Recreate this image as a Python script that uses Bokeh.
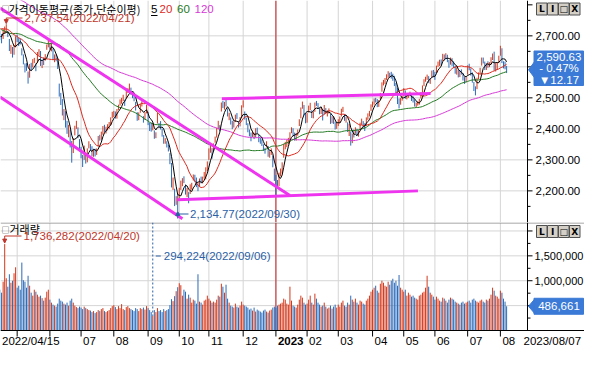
import numpy as np
from bokeh.plotting import figure
from bokeh.layouts import column
from bokeh.models import Range1d, Label, Arrow, NormalHead, ColumnDataSource
from bokeh.embed import file_html
from bokeh.resources import INLINE

# ---------------- data (KOSPI daily) ----------------
prior_closes = [
    3006, 3020, 3049, 3025, 3009, 2971,
    2983, 3013, 2976, 2983, 2969, 2960, 2963, 2950, 2924, 2968, 2999, 2997, 2962, 2947, 2971, 3014, 2997, 2995, 2980, 2936, 2910, 2839,
    2900, 2945, 2968, 2973, 2991, 3002, 3029, 3010, 3002, 2988, 2990, 3006, 3018, 2964, 2975, 2985, 2998, 3012, 3000, 3020, 2993, 2978,
    2989, 2990, 2953, 2920, 2954, 2927, 2927, 2972, 2962, 2922, 2890, 2865, 2843, 2863, 2834, 2792, 2720, 2710, 2615, 2663,
    2707, 2750, 2746, 2742, 2768, 2771, 2747, 2704, 2677, 2729, 2745, 2745, 2744, 2707, 2720, 2649, 2677, 2699,
    2703, 2747, 2713, 2651, 2623, 2680, 2661, 2646, 2621, 2659, 2694, 2707, 2687, 2722, 2736, 2729, 2730, 2729, 2741, 2746, 2757,
    2740, 2757, 2759, 2735, 2696, 2701, 2693, 2667, 2716, 2716,
]

closes = [
    2696, 2693, 2719, 2719, 2728, 2705, 2657, 2668, 2639, 2667, 2695,
    2687, 2680, 2678, 2645, 2611, 2597, 2592, 2550, 2604, 2597, 2620, 2626, 2592, 2639, 2647, 2606, 2617, 2612, 2638, 2670, 2686,
    2659, 2671, 2626, 2626, 2625, 2596, 2505, 2493, 2447, 2451, 2441, 2391, 2409, 2343, 2314, 2367, 2402, 2422, 2378, 2333,
    2305, 2300, 2342, 2292, 2334, 2351, 2340, 2318, 2329, 2322, 2331, 2375, 2371, 2387, 2409, 2393, 2404, 2412, 2416, 2435, 2452,
    2452, 2440, 2461, 2473, 2491, 2493, 2503, 2481, 2524, 2528, 2534, 2516, 2508, 2493, 2463, 2435, 2447, 2477, 2481, 2427, 2451, 2472,
    2416, 2409, 2404, 2410, 2376, 2384, 2450, 2411, 2402, 2383, 2356, 2368, 2347, 2332, 2290, 2221, 2224, 2169, 2171, 2155,
    2209, 2215, 2238, 2233, 2192, 2202, 2163, 2213, 2220, 2250, 2237, 2218, 2213, 2236, 2235, 2235, 2251, 2268, 2294,
    2335, 2337, 2329, 2348, 2372, 2399, 2424, 2403, 2483, 2475, 2480, 2477, 2443, 2444, 2420, 2405, 2418, 2441, 2438, 2408, 2433, 2473,
    2480, 2434, 2419, 2393, 2383, 2371, 2389, 2373, 2399, 2389, 2361, 2360, 2352, 2333, 2330, 2357, 2314, 2317, 2333, 2280, 2236,
    2226, 2219, 2256, 2265, 2290, 2350, 2351, 2360, 2365, 2386, 2400, 2379, 2368, 2380, 2395, 2429, 2469, 2484, 2450, 2425,
    2450, 2469, 2480, 2438, 2452, 2484, 2482, 2470, 2453, 2466, 2428, 2475, 2451, 2455, 2459, 2418, 2439, 2424, 2403, 2413,
    2422, 2432, 2463, 2463, 2432, 2433, 2395, 2411, 2349, 2380, 2378, 2396, 2388, 2389, 2417, 2424, 2415, 2400, 2435, 2444, 2453, 2477,
    2481, 2495, 2490, 2476, 2490, 2512, 2548, 2551, 2562, 2571, 2576, 2575, 2570, 2563, 2544, 2524, 2489, 2485, 2496, 2502,
    2529, 2501, 2502, 2509, 2510, 2497, 2491, 2475, 2479, 2480, 2495, 2515, 2538, 2557, 2563, 2568, 2555, 2559, 2586, 2577,
    2569, 2601, 2615, 2616, 2611, 2641, 2629, 2638, 2619, 2609, 2626, 2610, 2605, 2583, 2594, 2570, 2582, 2581, 2564, 2550, 2564,
    2602, 2593, 2579, 2556, 2527, 2521, 2562, 2575, 2591, 2628, 2619, 2594, 2608, 2600, 2610, 2628, 2636, 2592, 2604, 2608, 2633,
    2667, 2616, 2605, 2602.80, 2590.63,
]

highs = [
    2717, 2706, 2722, 2730, 2737.54, 2716, 2690, 2671, 2664, 2670, 2699,
    2704, 2693, 2691, 2660, 2640, 2611, 2612, 2585, 2609, 2613, 2625, 2629, 2611, 2648, 2657, 2651, 2622, 2630, 2641, 2672, 2691,
    2676, 2676, 2660, 2640, 2640, 2621, 2546, 2516, 2496, 2464, 2457, 2426, 2413, 2397, 2361, 2370, 2410, 2426, 2405, 2367,
    2342, 2316, 2346, 2320, 2337, 2360, 2351, 2344, 2334, 2336, 2337, 2377, 2381, 2391, 2409, 2413, 2407, 2415, 2422, 2437, 2455,
    2458, 2456, 2464, 2478, 2495, 2500, 2510, 2494, 2525, 2531, 2546, 2533, 2520, 2509, 2487, 2454, 2453, 2480, 2489, 2441, 2454, 2478,
    2455, 2420, 2420, 2419, 2395, 2389, 2452, 2419, 2425, 2401, 2380, 2370, 2360, 2349, 2322, 2290, 2243, 2207, 2183, 2191,
    2210, 2233, 2241, 2247, 2221, 2209, 2196, 2221, 2226, 2253, 2252, 2243, 2225, 2240, 2246, 2246, 2261, 2276, 2295,
    2337, 2348, 2338, 2353, 2375, 2403, 2426, 2412, 2485, 2490, 2487, 2494, 2466, 2452, 2437, 2426, 2424, 2446, 2451, 2423, 2438, 2476,
    2492, 2456, 2436, 2418, 2398, 2388, 2394, 2387, 2402, 2404, 2381, 2371, 2366, 2350, 2339, 2360, 2345, 2328, 2337, 2314, 2272,
    2251, 2235, 2259, 2272, 2292, 2351, 2358, 2365, 2371, 2389, 2405, 2402, 2388, 2387, 2398, 2431, 2469, 2488, 2477, 2451,
    2451, 2475, 2484, 2460, 2456, 2485, 2490, 2483, 2467, 2469, 2463, 2477, 2467, 2460, 2466, 2448, 2441, 2441, 2423, 2419,
    2431, 2440, 2465, 2471, 2448, 2439, 2421, 2416, 2391, 2385, 2398, 2405, 2400, 2396, 2420, 2433, 2425, 2418, 2437, 2450, 2458, 2479,
    2488, 2498, 2500, 2496, 2493, 2516, 2550, 2558, 2564, 2576, 2586, 2581, 2584, 2578, 2571, 2548, 2533, 2498, 2500, 2507,
    2531, 2524, 2510, 2513, 2520, 2512, 2505, 2495, 2485, 2489, 2497, 2518, 2540, 2560, 2568, 2575, 2570, 2563, 2588, 2590,
    2584, 2604, 2617, 2623, 2624, 2642, 2640, 2644, 2639, 2622, 2630, 2628, 2617, 2603, 2598, 2590, 2588, 2592, 2580, 2567, 2568,
    2605, 2610, 2595, 2582, 2551, 2537, 2565, 2582, 2597, 2630, 2630, 2617, 2612, 2618, 2615, 2631, 2643, 2649, 2613, 2614, 2636,
    2668, 2660, 2618, 2617, 2603,
]

lows = [
    2686, 2676, 2690, 2707, 2712, 2696, 2651, 2642, 2630, 2639, 2663,
    2680, 2667, 2672, 2637, 2608, 2582, 2587, 2546, 2565, 2587, 2598, 2612, 2586, 2612, 2636, 2603, 2596, 2606, 2620, 2655, 2663,
    2656, 2650, 2622, 2615, 2618, 2593, 2504, 2477, 2443, 2428, 2404, 2384, 2373, 2340, 2291, 2322, 2379, 2400, 2370, 2327,
    2305, 2277, 2300, 2288, 2292, 2337, 2330, 2312, 2310, 2311, 2316, 2343, 2362, 2365, 2381, 2389, 2385, 2395, 2400, 2412, 2434,
    2438, 2433, 2433, 2461, 2475, 2481, 2489, 2474, 2497, 2516, 2522, 2510, 2499, 2489, 2459, 2426, 2428, 2452, 2472, 2420, 2430, 2450,
    2412, 2393, 2391, 2395, 2368, 2370, 2417, 2405, 2398, 2375, 2352, 2352, 2340, 2327, 2286, 2211, 2203, 2151, 2155, 2134.77,
    2175, 2203, 2215, 2225, 2188, 2180, 2160, 2190, 2204, 2233, 2228, 2212, 2199, 2213, 2224, 2224, 2240, 2237, 2264,
    2300, 2323, 2304, 2328, 2355, 2372, 2398, 2393, 2456, 2467, 2462, 2472, 2440, 2428, 2414, 2399, 2404, 2422, 2432, 2404, 2408, 2436,
    2469, 2430, 2412, 2389, 2376, 2360, 2374, 2367, 2372, 2385, 2357, 2352, 2345, 2329, 2320, 2340, 2310, 2307, 2316, 2276, 2232,
    2181, 2207, 2215, 2247, 2256, 2307, 2334, 2341, 2351, 2360, 2386, 2376, 2362, 2362, 2378, 2409, 2434, 2465, 2444, 2418,
    2420, 2453, 2460, 2435, 2434, 2455, 2474, 2466, 2447, 2448, 2427, 2446, 2448, 2440, 2449, 2416, 2418, 2416, 2398, 2400,
    2409, 2419, 2440, 2454, 2426, 2420, 2390, 2377, 2346, 2354, 2372, 2385, 2377, 2375, 2398, 2413, 2405, 2393, 2410, 2429, 2440, 2458,
    2470, 2478, 2485, 2470, 2471, 2494, 2520, 2540, 2545, 2558, 2565, 2566, 2562, 2555, 2538, 2515, 2480, 2466, 2478, 2491,
    2505, 2497, 2495, 2500, 2505, 2490, 2485, 2472, 2470, 2475, 2478, 2498, 2515, 2538, 2552, 2558, 2548, 2545, 2565, 2566,
    2558, 2580, 2600, 2603, 2605, 2618, 2622, 2625, 2615, 2597, 2607, 2603, 2596, 2578, 2575, 2566, 2567, 2575, 2556, 2545, 2550,
    2575, 2589, 2572, 2549, 2522, 2508, 2528, 2560, 2577, 2604, 2611, 2590, 2590, 2597, 2599, 2608, 2622, 2588, 2585, 2590, 2612,
    2636, 2612, 2595, 2592, 2580,
]

volumes_k = [
    820, 760, 980, 1736.282, 1050, 880, 1130, 960, 1000, 1150, 1270,
    860, 900, 820, 1365, 1010, 980, 860, 1100, 900, 760, 700, 820, 780, 720, 680, 700, 650, 600, 660, 780, 820,
    620, 560, 520, 500, 480, 540, 640, 600, 580, 540, 520, 560, 500, 600, 640, 560, 500, 470, 450, 480,
    460, 430, 480, 450, 430, 410, 400, 370, 390, 350, 370, 410, 390, 430, 450, 390, 370, 390, 410, 450, 490,
    510, 470, 430, 490, 450, 530, 430, 410, 470, 490, 450, 430, 410, 390, 450, 430, 390, 450, 430, 460, 420, 490,
    450, 410, 370, 294.224, 410, 370, 450, 390, 410, 370, 430, 390, 410, 430, 510, 630, 590, 690, 790, 870,
    950, 910, 700, 820, 780, 640, 720, 660, 560, 620, 600, 540, 1130, 580, 560, 520, 600, 620, 700,
    640, 600, 560, 580, 560, 620, 700, 680, 940, 880, 760, 920, 640, 560, 500, 480, 460, 540, 480, 460, 500, 580,
    520, 500, 480, 460, 420, 440, 400, 460, 380, 420, 400, 380, 360, 400, 420, 380, 360, 400, 420, 460, 480,
    460, 500, 520, 540, 560, 640, 620, 540, 520, 880, 600, 500, 480, 460, 520, 620, 700, 660, 560, 520,
    540, 620, 700, 560, 520, 740, 640, 560, 520, 480, 500, 560, 480, 440, 460, 500, 440, 480, 520, 460,
    520, 480, 560, 600, 500, 480, 560, 520, 700, 620, 580, 640, 560, 520, 600, 580, 540, 520, 600, 640, 700, 780,
    820, 860, 900, 800, 760, 940, 1000, 960, 900, 880, 980, 920, 1000, 1040, 960, 1000, 900, 1115, 860, 820,
    780, 820, 700, 760, 720, 680, 700, 660, 640, 620, 700, 720, 760, 780, 860, 1100, 880, 760, 720, 680,
    620, 680, 640, 600, 580, 660, 640, 600, 560, 620, 660, 640, 620, 580, 560, 540, 520, 560, 580, 540, 560,
    580, 600, 560, 620, 640, 600, 580, 560, 600, 620, 580, 560, 620, 600, 640, 720, 860, 800, 700, 680, 640,
    800, 760, 640, 580, 486.661,
]

month_starts = [11, 32, 52, 73, 95, 115, 134, 156, 177, 197, 217, 239, 259, 279, 300, 321]
x_label_pos = [0, 52, 73, 95, 115, 134, 156, 177, 197, 217, 239, 259, 279, 300, 321]
x_label_text = ["2022/04/15", "07", "08", "09", "10", "11", "12", "2023",
                "02", "03", "04", "05", "06", "07", "08"]
last_date = "2023/08/07"
year_start = 177
high_date, low_date = "2022/04/21", "2022/09/30"
vmax_date, vmin_date = "2022/04/20", "2022/09/06"

ma_periods = [120, 60, 20, 5]
ma_colors = ["#d63ad6", "#237a23", "#dc2a1e", "#000000"]

# hand-drawn trend lines (index, price)
trend_x0 = [0, 0, 142.3, 113.6]
trend_y0 = [2790, 2503, 2497, 2171]
trend_x1 = [186, 117, 276.2, 268.1]
trend_y1 = [2185, 2110, 2514, 2200]

price_ticks = [2200, 2300, 2400, 2500, 2600, 2700, 2800]
price_hidden = [2600, 2800]
vol_ticks = [500000, 1000000, 1500000, 2000000]
vol_hidden = [500000, 2000000]

# ---------------- derived ----------------
n = len(closes)
idx = list(range(n))
volumes = [int(round(v * 1000)) for v in volumes_k]
allc = np.array(prior_closes + closes, dtype=float)
off = len(prior_closes)
cs = np.concatenate([[0.0], np.cumsum(allc)])


def sma(k):
    return [(cs[off + i + 1] - cs[off + i + 1 - k]) / k for i in range(n)]


UP, DOWN = "#d4381c", "#2c6bb8"
prev = [prior_closes[-1]] + closes[:-1]
cols = [UP if c >= pc else DOWN for c, pc in zip(closes, prev)]

data = dict(x=idx, h=highs, l=lows, c=closes, v=volumes, col=cols)
for k in ma_periods:
    data["ma%d" % k] = sma(k)
src = ColumnDataSource(data)

# ---------------- geometry ----------------
W = 584
FW = 527                 # width of the data area (right axis column follows)
FH1, FH2, STRIP = 222, 108, 20
X0, X1 = 0.31, 338.4
XR = X0 + W * (X1 - X0) / FW
P0, P1 = 2098, 2814
V1 = 2170000
VB = -STRIP * V1 / FH2


def xd(px):
    return X0 + px * (X1 - X0) / FW


def pxof(i):
    return (i - X0) * FW / (X1 - X0)


def pyd(py):
    return P1 - py * (P1 - P0) / FH1


def vyd(py):
    return V1 - py * V1 / FH2


FONT = "Liberation Sans"
KFONT = "Noto Sans CJK KR"
GRID = "#d5d5d5"
RED_T = "#c0362a"
BLUE_T = "#2b5fa6"
BOX = "#3b7ad6"
BTN = "#d4d0c8"


def lab(p, x, y, text, size="11.5px", color="black", font=FONT, align="left", style="normal"):
    p.add_layout(Label(x=x, y=y, text=text, text_font=font, text_font_size=size, text_color=color,
                       text_align=align, text_baseline="middle", text_font_style=style))


common = dict(width=W, toolbar_location=None, output_backend="svg", min_border=0,
              min_border_left=0, min_border_right=0, min_border_top=0, min_border_bottom=0,
              x_axis_location=None, y_axis_location=None, background_fill_color="white",
              border_fill_color="white", outline_line_color=None)

# ---------------- price panel ----------------
p1 = figure(height=FH1, x_range=Range1d(X0, XR), y_range=Range1d(P0, P1), **common)
p1.grid.visible = False

# grid
p1.segment(x0=month_starts, y0=[P0] * len(month_starts), x1=month_starts, y1=[P1] * len(month_starts),
           line_color=GRID, line_width=1)
gy = price_ticks[:-1]
p1.segment(x0=[X0] * len(gy), y0=gy, x1=[X1] * len(gy), y1=gy, line_color=GRID, line_width=1)
p1.segment(x0=[year_start], y0=[P0], x1=[year_start], y1=[P1], line_color="#c41a1a", line_width=1)

# candles, moving averages, trend lines
p1.segment(x0="x", y0="l", x1="x", y1="h", line_color="col", line_width=1, source=src)
for k, c in zip(ma_periods, ma_colors):
    p1.line("x", "ma%d" % k, source=src, line_color=c, line_width=1)
p1.segment(x0=trend_x0, y0=trend_y0, x1=trend_x1, y1=trend_y1, line_color="#ee34ee", line_width=3)

# right price axis
p1.segment(x0=[X1], y0=[P0], x1=[X1], y1=[P1], line_color="black", line_width=1)
p1.segment(x0=[X1] * len(price_ticks), y0=price_ticks, x1=[xd(FW + 5)] * len(price_ticks), y1=price_ticks,
           line_color="black", line_width=1)
mt = [t - 50 for t in price_ticks]
p1.segment(x0=[X1] * len(mt), y0=mt, x1=[xd(FW + 3)] * len(mt), y1=mt, line_color="black", line_width=1)
for t in price_ticks:
    if t not in price_hidden:
        lab(p1, xd(FW + 8), t, format(t, ",.2f"))

# title
lab(p1, xd(1), pyd(8), "□", size="8px", font=KFONT, color="#333333")
lab(p1, xd(8), pyd(8), "가격이동평균(종가,단순이평)", size="11px", font=KFONT)
for txt, px, c in zip(["5", "20", "60", "120"], [150.5, 159, 176.5, 194],
                      ["#000000", "#dc2a1e", "#237a23", "#d63ad6"]):
    lab(p1, xd(px), pyd(8.5), txt, color=c)
p1.segment(x0=[xd(150.5)], y0=[pyd(15)], x1=[xd(157)], y1=[pyd(15)], line_color="black", line_width=1)

# high annotation
hi_i = int(np.argmax(highs))
hi_v = max(highs)
lab(p1, xd(24), pyd(17.5), "%s(%s)" % (format(hi_v, ",.2f"), high_date), color=RED_T)
p1.segment(x0=[hi_i], y0=[pyd(17.5)], x1=[xd(22)], y1=[pyd(17.5)], line_color=RED_T, line_width=1)
p1.add_layout(Arrow(x_start=hi_i, y_start=pyd(17.5), x_end=hi_i, y_end=hi_v + 2,
                    line_color=RED_T, line_width=1,
                    end=NormalHead(size=4, line_color=RED_T, fill_color=RED_T)))

# low annotation
lo_i = int(np.argmin(lows))
lo_v = min(lows)
lab(p1, xd(189.5), pyd(213.5), "%s(%s)" % (format(lo_v, ",.2f"), low_date), color=BLUE_T)
p1.segment(x0=[lo_i], y0=[pyd(213.5)], x1=[xd(188)], y1=[pyd(213.5)], line_color=BLUE_T, line_width=1)
p1.add_layout(Arrow(x_start=lo_i, y_start=pyd(218), x_end=lo_i, y_end=lo_v - 1,
                    line_color=BLUE_T, line_width=1,
                    end=NormalHead(size=4, line_color=BLUE_T, fill_color=BLUE_T)))

# current price box
last = closes[-1]
chg = last - closes[-2]
pct = chg / closes[-2] * 100
arrow_ch = "▼" if chg < 0 else "▲"
sign = "- " if chg < 0 else "+ "
ly = (P1 - last) * FH1 / (P1 - P0)
p1.patch(x=[xd(FW + 1), xd(534), xd(534)], y=[last, pyd(ly - 8), pyd(ly + 8)], fill_color=BOX, line_color=BOX)
p1.quad(left=[xd(533.5)], right=[xd(583)], top=[pyd(50.5)], bottom=[pyd(85)], fill_color=BOX, line_color=BOX)
lab(p1, xd(558.5), pyd(56), format(last, ",.2f"), color="white", align="center")
lab(p1, xd(558.5), pyd(67.5), "%s%.2f%%" % (sign, abs(pct)), color="white", align="center")
lab(p1, xd(558.5), pyd(79), "%s%.2f" % (arrow_ch, abs(chg)), color="white", align="center")

# window buttons
btn_chars = ["L", "I", "□", "X"]
btn_left = [536, 547, 558, 569]


def buttons(p, yconv, top):
    p.quad(left=[xd(b) for b in btn_left], right=[xd(b + 10.5) for b in btn_left],
           top=[yconv(top)] * 4, bottom=[yconv(top + 12)] * 4, fill_color=BTN, line_color="#505050")
    for ch, b in zip(btn_chars, btn_left):
        lab(p, xd(b + 5.25), yconv(top + 6), ch, size="9px", font="DejaVu Sans", align="center", style="bold")


buttons(p1, pyd, 2.5)

# ---------------- volume panel ----------------
p2 = figure(height=FH2 + STRIP, x_range=p1.x_range, y_range=Range1d(VB, V1), **common)
p2.grid.visible = False

p2.segment(x0=month_starts, y0=[0] * len(month_starts), x1=month_starts, y1=[V1] * len(month_starts),
           line_color=GRID, line_width=1)
p2.segment(x0=[X0] * len(vol_ticks), y0=vol_ticks, x1=[X1] * len(vol_ticks), y1=vol_ticks,
           line_color=GRID, line_width=1)
p2.segment(x0=[X0], y0=[vyd(0.5)], x1=[XR], y1=[vyd(0.5)], line_color="#8a8a8a", line_width=1)
p2.segment(x0=[year_start], y0=[0], x1=[year_start], y1=[V1], line_color="#c41a1a", line_width=1)

p2.segment(x0="x", y0=0, x1="x", y1="v", line_color="col", line_width=1, source=src)

# right volume axis
p2.segment(x0=[X1], y0=[0], x1=[X1], y1=[V1], line_color="black", line_width=1)
p2.segment(x0=[X1] * len(vol_ticks), y0=vol_ticks, x1=[xd(FW + 5)] * len(vol_ticks), y1=vol_ticks,
           line_color="black", line_width=1)
vmt = [t - 250000 for t in vol_ticks]
p2.segment(x0=[X1] * len(vmt), y0=vmt, x1=[xd(FW + 3)] * len(vmt), y1=vmt, line_color="black", line_width=1)
for t in vol_ticks:
    if t not in vol_hidden:
        lab(p2, xd(FW + 7), t, format(t, ","), size="11px")

# bottom date axis
p2.segment(x0=[X0], y0=[0], x1=[XR], y1=[0], line_color="black", line_width=1)
p2.segment(x0=month_starts, y0=[0] * len(month_starts), x1=month_starts, y1=[vyd(FH2 + 6)] * len(month_starts),
           line_color="black", line_width=1)
ylab = vyd(FH2 + 10.5)
for pos, txt in zip(x_label_pos, x_label_text):
    lab(p2, xd(pxof(pos) + 2), ylab, txt, style="bold" if txt == "2023" else "normal")
lab(p2, xd(523), ylab, last_date)

# title
lab(p2, xd(1), vyd(6.5), "□", size="8px", font=KFONT, color="#333333")
lab(p2, xd(9), vyd(6.5), "거래량", size="11px", font=KFONT)

vmax_i = int(np.argmax(volumes))
vmax = max(volumes)
lab(p2, xd(23), vyd(13.5), "%s(%s)" % (format(vmax, ","), vmax_date), color=RED_T)
p2.segment(x0=[vmax_i], y0=[vyd(13.5)], x1=[xd(21)], y1=[vyd(13.5)], line_color=RED_T, line_width=1)
p2.add_layout(Arrow(x_start=vmax_i, y_start=vyd(13.5), x_end=vmax_i, y_end=vmax + 20000,
                    line_color=RED_T, line_width=1,
                    end=NormalHead(size=4, line_color=RED_T, fill_color=RED_T)))

vmin_i = int(np.argmin(volumes))
vmin = min(volumes)
pxm = pxof(vmin_i)
p2.segment(x0=[vmin_i], y0=[V1], x1=[vmin_i], y1=[vmin], line_color=BLUE_T, line_width=1, line_dash="2 2")
p2.segment(x0=[xd(pxm + 3)], y0=[vyd(33.5)], x1=[xd(pxm + 8)], y1=[vyd(33.5)], line_color=BLUE_T, line_width=1)
lab(p2, xd(pxm + 11), vyd(33.5), "%s(%s)" % (format(vmin, ","), vmin_date), color=BLUE_T)

# current volume box
lv = volumes[-1]
lvy = (V1 - lv) * FH2 / V1
p2.patch(x=[xd(FW + 1), xd(534), xd(534)], y=[lv, vyd(lvy - 7), vyd(lvy + 7)], fill_color=BOX, line_color=BOX)
p2.quad(left=[xd(533.5)], right=[xd(583)], top=[vyd(lvy - 8)], bottom=[vyd(lvy + 8)], fill_color=BOX, line_color=BOX)
lab(p2, xd(558.5), lv, format(lv, ","), color="white", align="center")

buttons(p2, vyd, 3)

layout = column(p1, p2, spacing=0)
open("out.html", "w").write(file_html(layout, INLINE))
